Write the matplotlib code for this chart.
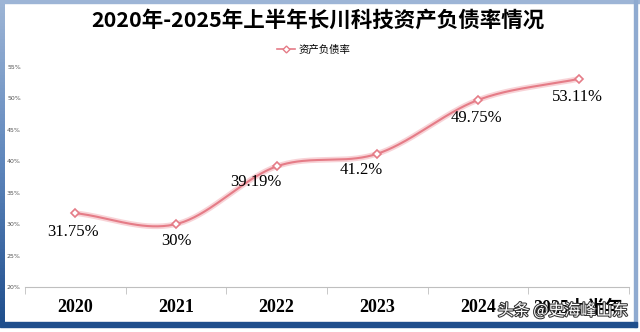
import numpy as np
import matplotlib
matplotlib.use("Agg")
import matplotlib.pyplot as plt
import matplotlib.patheffects as pe
from matplotlib.patches import Rectangle
from matplotlib.lines import Line2D
from matplotlib.colors import LinearSegmentedColormap

# data
years = ['2020', '2021', '2022', '2023', '2024', '2025上半年']
debt_ratio = [31.75, 30.00, 39.19, 41.20, 49.75, 53.11]
point_labels = ['31.75%', '30%', '39.19%', '41.2%', '49.75%', '53.11%']
y_ticks = [20, 25, 30, 35, 40, 45, 50, 55]

# label offsets in pixels (style only)
label_dx = [-2, 0, -21, -16, -2, -1]
label_dy = [-19, -17, -16, -16, -18, -18]

plt.rcParams['font.family'] = ['Noto Sans CJK SC', 'DejaVu Sans']

W, H = 640, 332
fig = plt.figure(figsize=(W / 100, H / 100), dpi=100)
fig.patch.set_facecolor('white')

ax = fig.add_axes([25 / W, 1 - 287 / H, 604 / W, 220 / H])
ax.set_xlim(-0.5, len(years) - 0.5)
ax.set_ylim(20, 55)

line_color = '#E57C87'
x = np.arange(len(years))
y = np.array(debt_ratio)

# smooth curve (Catmull-Rom through the points)
xs, ys = [], []
pts = np.column_stack([x, y])
ext = np.vstack([2 * pts[0] - pts[1], pts, 2 * pts[-1] - pts[-2]])
for i in range(1, len(ext) - 2):
    p0, p1, p2, p3 = ext[i - 1], ext[i], ext[i + 1], ext[i + 2]
    t = np.linspace(0, 1, 40)[:, None]
    seg = 0.5 * ((2 * p1) + (-p0 + p2) * t + (2 * p0 - 5 * p1 + 4 * p2 - p3) * t ** 2
                 + (-p0 + 3 * p1 - 3 * p2 + p3) * t ** 3)
    xs.extend(seg[:, 0])
    ys.extend(seg[:, 1])

ax.plot(xs, ys, color=line_color, lw=1.5, zorder=2,
        path_effects=[pe.Stroke(linewidth=4, foreground='#F8D3D7'), pe.Normal()])
ax.plot(x, y, linestyle='none', marker='D', markersize=4, markerfacecolor='white',
        markeredgecolor=line_color, markeredgewidth=1.2, zorder=3)

for i, lab in enumerate(point_labels):
    ax.annotate(lab, (x[i], y[i]), xytext=(label_dx[i], label_dy[i]),
                textcoords='offset pixels', ha='center', va='center',
                fontsize=12, family='Liberation Serif', color='black')

# axes styling
for s in ['top', 'right', 'left']:
    ax.spines[s].set_visible(False)
ax.spines['bottom'].set_color('#BFBFBF')
ax.set_yticks(y_ticks)
ax.set_yticklabels([f'{v}%' for v in y_ticks], fontsize=4.5, color='#555555',
                   family='DejaVu Sans')
ax.tick_params(axis='y', length=0, pad=3)
ax.set_xticks(x)
ax.set_xticklabels(years, fontsize=13, fontweight='bold',
                   family=['Liberation Serif', 'Noto Sans CJK SC'])
ax.tick_params(axis='x', length=0, pad=9)
ax.set_xticks(np.arange(-0.5, len(years), 1), minor=True)
ax.tick_params(axis='x', which='minor', length=5, color='#BFBFBF')

# title and legend
fig.text(0.497, 1 - 20 / H, '2020年-2025年上半年长川科技资产负债率情况',
         ha='center', va='center', fontsize=15.5, fontweight='bold')
handle = Line2D([], [], color=line_color, lw=1.2, marker='D', markersize=3.5,
                markerfacecolor='white', markeredgecolor=line_color)
fig.legend([handle], ['资产负债率'], loc='center', bbox_to_anchor=(0.49, 1 - 50 / H),
           frameon=False, fontsize=7.5, handlelength=1.8, handletextpad=0.3)

# blue frame
fig.patches.append(Rectangle((0, 1 - 3 / H), 1, 3 / H, transform=fig.transFigure,
                             color='#9DB5D6', zorder=5))
fig.patches.append(Rectangle((1 - 6 / W, 5 / H), 3 / W, 1 - 5 / H, transform=fig.transFigure,
                             color='#8FAAD0', zorder=5))
fig.patches.append(Rectangle((0, 5 / H), 1 - 3 / W, 5 / H, transform=fig.transFigure,
                             color='#1F4E8C', zorder=5))
bax = fig.add_axes([0, 5 / H, 5 / W, 1 - 5 / H])
cmap = LinearSegmentedColormap.from_list('b', ['#1F4E8C', '#5E86BC', '#9DB5D6'])
bax.imshow(np.linspace(0, 1, 100)[::-1, None], aspect='auto', cmap=cmap)
bax.axis('off')

# watermark
fig.text(563 / W, 1 - 311 / H, '头条 @史海峰山东', ha='center', va='center',
         fontsize=11.5, color='white', zorder=6,
         path_effects=[pe.Stroke(linewidth=1.5, foreground='#333333'), pe.Normal()])

fig.savefig('out.png', dpi=100)
